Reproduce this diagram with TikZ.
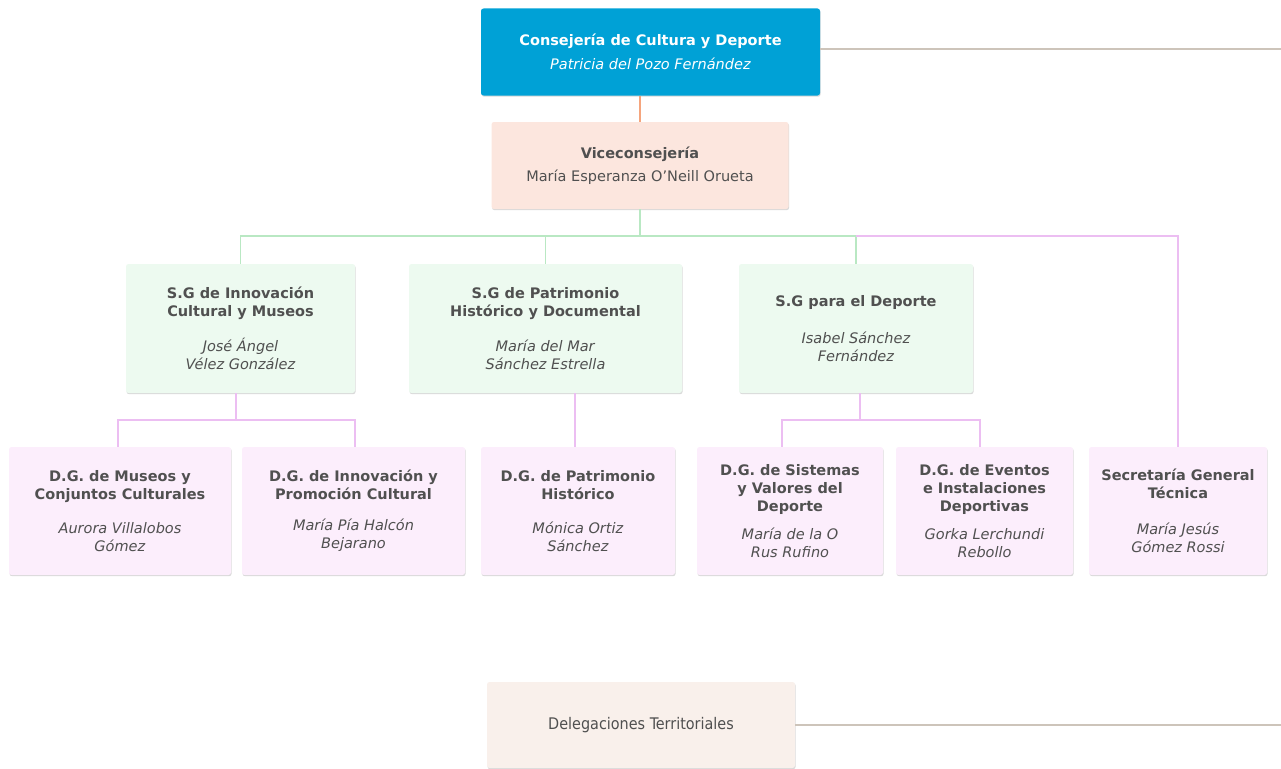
\documentclass[tikz,border=0pt]{standalone}
\usepackage{fontspec}
\setmainfont{DejaVu Sans}
\newfontfamily\condfont{DejaVu Sans Condensed}
\usetikzlibrary{shadows}

\definecolor{topblue}{RGB}{0,161,214}
\definecolor{vicefill}{RGB}{252,230,222}
\definecolor{sgfill}{RGB}{237,250,240}
\definecolor{dgfill}{RGB}{252,238,252}
\definecolor{delfill}{RGB}{249,240,235}
\definecolor{txtgray}{RGB}{80,80,80}
\definecolor{lineorange}{RGB}{245,165,125}
\definecolor{linegreen}{RGB}{185,232,195}
\definecolor{linepink}{RGB}{236,190,242}
\definecolor{linegray}{RGB}{205,196,186}

\begin{document}
\begin{tikzpicture}[x=1pt,y=-1pt,
			box/.style={rounded corners=2.5pt,inner sep=0pt,align=center,
				text=txtgray,font=\fontsize{14.5}{18}\selectfont,
				drop shadow={shadow xshift=0.6pt,shadow yshift=-1.2pt,opacity=0.3}},
			sg node/.style={box,fill=sgfill,minimum height=129pt},
			dg node/.style={box,fill=dgfill,minimum height=128pt},
			link/.style={line width=1.6pt}]
			
			\useasboundingbox (0,0) rectangle (1281,768);
			
			\node[box,fill=topblue,text=white,minimum width=339pt,minimum height=87pt,
				font=\fontsize{14.5}{24}\selectfont] (C) at (650.5,52)
				{\textbf{Consejería de Cultura y Deporte}\\\textit{Patricia del Pozo Fernández}};
			\node[box,fill=vicefill,minimum width=297pt,minimum height=87pt,
				font=\fontsize{14.5}{23}\selectfont] (V) at (640,165.5)
				{\textbf{Viceconsejería}\\María Esperanza O'Neill Orueta};
			
			\node[sg node,minimum width=229pt] (S1) at (240.5,328.5)
				{\textbf{S.G de Innovación}\\\textbf{Cultural y Museos}\\[17pt]\textit{José Ángel}\\\textit{Vélez González}};
			\node[sg node,minimum width=273pt] (S2) at (545.5,328.5)
				{\textbf{S.G de Patrimonio}\\\textbf{Histórico y Documental}\\[17pt]\textit{María del Mar}\\\textit{Sánchez Estrella}};
			\node[sg node,minimum width=234pt] (S3) at (856,328.5)
				{\textbf{S.G para el Deporte}\\[19pt]\textit{Isabel Sánchez}\\\textit{Fernández}};
			
			\node[dg node,minimum width=222pt] (D1) at (120,511)
				{\textbf{D.G. de Museos y}\\\textbf{Conjuntos Culturales}\\[16pt]\textit{Aurora Villalobos}\\\textit{Gómez}};
			\node[dg node,minimum width=223pt] (D2) at (353.5,511)
				{\textbf{D.G. de Innovación y}\\\textbf{Promoción Cultural}\\[13pt]\textit{María Pía Halcón}\\\textit{Bejarano}};
			\node[dg node,minimum width=194pt] (D3) at (578,511)
				{\textbf{D.G. de Patrimonio}\\\textbf{Histórico}\\[16pt]\textit{Mónica Ortiz}\\\textit{Sánchez}};
			\node[dg node,minimum width=186pt] (D4) at (790,511)
				{\textbf{D.G. de Sistemas}\\\textbf{y Valores del}\\\textbf{Deporte}\\[10pt]\textit{María de la O}\\\textit{Rus Rufino}};
			\node[dg node,minimum width=177pt] (D5) at (984.5,511)
				{\textbf{D.G. de Eventos}\\\textbf{e Instalaciones}\\\textbf{Deportivas}\\[10pt]\textit{Gorka Lerchundi}\\\textit{Rebollo}};
			\node[dg node,minimum width=178pt] (T) at (1178,511)
				{\textbf{Secretaría General}\\\textbf{Técnica}\\[18pt]\textit{María Jesús}\\\textit{Gómez Rossi}};
			
			\node[box,fill=delfill,minimum width=308pt,minimum height=86pt,
				font=\condfont\fontsize{16}{18}\selectfont] (L) at (641,725)
				{Delegaciones Territoriales};
			
			\coordinate (topend) at (1281,49);
			\coordinate (gbar) at (640,236);
			\coordinate (bar1) at (236,420);
			\coordinate (bar3) at (860,420);
			
			% lines
			\draw[link,linegray] (C.east |- topend) -- (topend);
			\draw[link,linegray] (L.east) -- (L.east -| topend);
			\draw[link,lineorange] (V.north) -- (V.north |- C.south);
			\draw[link,linegreen] (V.south) -- (gbar);
			\draw[link,linegreen] (S1.north) |- (gbar) -| (S3.north);
			\draw[link,linegreen] (S2.north) -- (S2.north |- gbar);
			\draw[link,linepink] (S3.north |- gbar) -| (T.north);
			\draw[link,linepink] (bar1 |- S1.south) -- (bar1);
			\draw[link,linepink] ([xshift=-2pt]D1.north) |- (bar1) -| ([xshift=1.5pt]D2.north);
			\draw[link,linepink] ([xshift=-3pt]D3.north) -- ([xshift=-3pt]D3.north |- S2.south);
			\draw[link,linepink] (bar3 |- S3.south) -- (bar3);
			\draw[link,linepink] ([xshift=-8pt]D4.north) |- (bar3) -| ([xshift=-4.5pt]D5.north);
			
		\end{tikzpicture}
\end{document}
